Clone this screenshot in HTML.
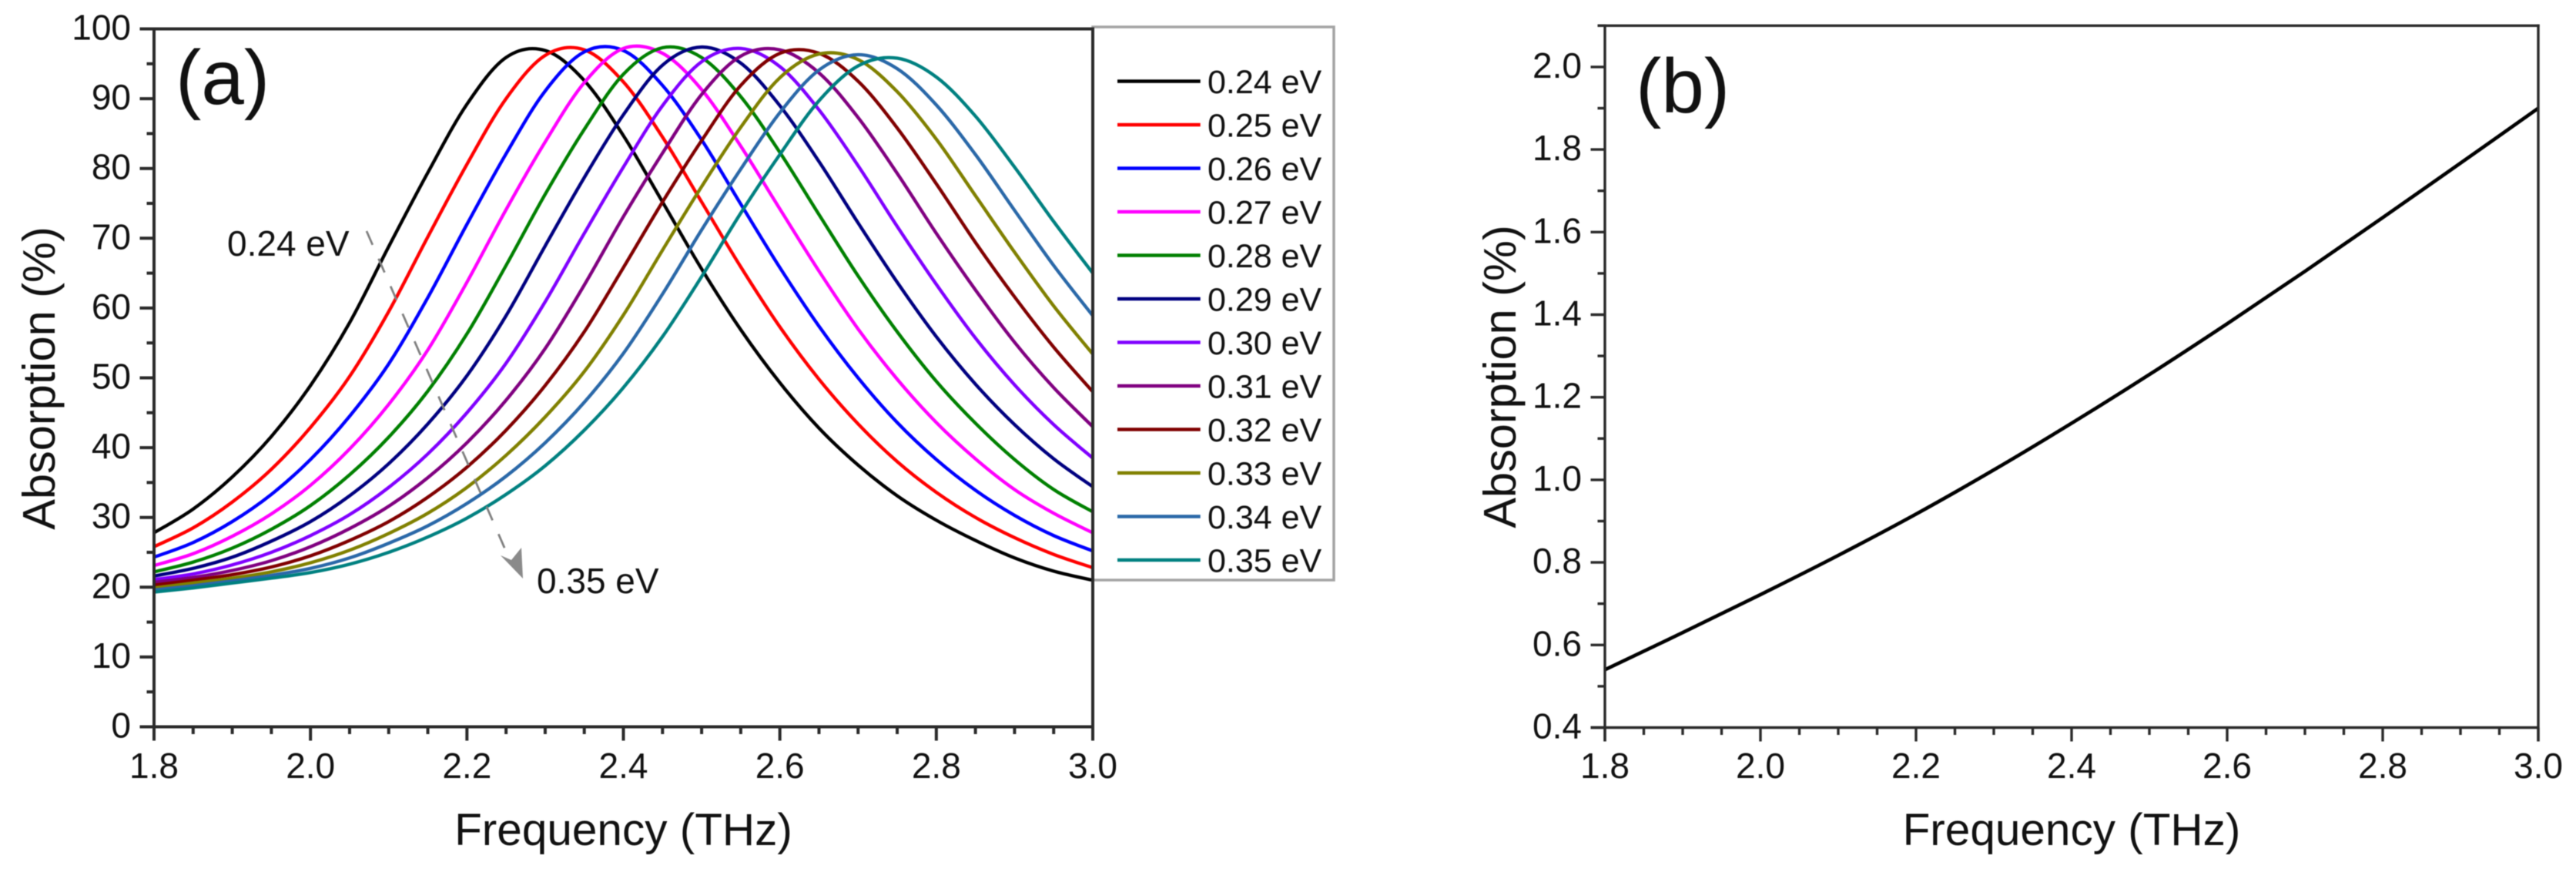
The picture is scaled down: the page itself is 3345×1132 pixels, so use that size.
<!DOCTYPE html>
<html lang="en">
<head>
<meta charset="utf-8">
<title>Absorption spectra</title>
<style>
  html, body { margin: 0; padding: 0; background: #fff; }
  #figure { display: block; width: 3345px; height: 1132px; filter: blur(0.55px); }
  text { font-family: "Liberation Sans", Arial, sans-serif; fill: #111; }
</style>
</head>
<body>
<svg id="figure" xmlns="http://www.w3.org/2000/svg" width="3345" height="1132" viewBox="0 0 3345 1132">
  <rect x="0" y="0" width="3345" height="1132" fill="#fff"/>
  <g id="panelA">
    <g id="curvesA"></g>
    <g>
      <line x1="476" y1="300" x2="662" y2="727" stroke="#808080" stroke-width="2.8" stroke-dasharray="19.5 19.5"/>
      <polygon points="679,751 650,721 664,727 677,711" fill="#8a8a8a"/>
    </g>
    <text x="295" y="332" font-size="46">0.24 eV</text>
    <text x="697" y="770" font-size="46">0.35 eV</text>
    <rect x="1419" y="35" width="313" height="718" fill="#fff" stroke="#a4a4a4" stroke-width="3.5"/>
    <g id="legendA"></g>
    <g id="axesA"></g>
    <text x="228" y="135" font-size="100">(a)</text>
    <text transform="translate(71 491) rotate(-90)" text-anchor="middle" font-size="59.5">Absorption (%)</text>
    <text x="809.5" y="1097" text-anchor="middle" font-size="58.5">Frequency (THz)</text>
  </g>
  <g id="panelB">
    <g id="curvesB"></g>
    <g id="axesB"></g>
    <text x="2124" y="146" font-size="100">(b)</text>
    <text transform="translate(1968 489) rotate(-90)" text-anchor="middle" font-size="59.5">Absorption (%)</text>
    <text x="2690" y="1097" text-anchor="middle" font-size="58.5">Frequency (THz)</text>
  </g>
</svg>
<script>
const frequencyA = [1.80,1.85,1.90,1.95,2.00,2.05,2.10,2.15,2.20,2.25,2.30,2.35,2.40,2.45,2.50,2.55,2.60,2.65,2.70,2.75,2.80,2.85,2.90,2.95,3.00];
const seriesNames = ['0.24 eV','0.25 eV','0.26 eV','0.27 eV','0.28 eV','0.29 eV','0.30 eV','0.31 eV','0.32 eV','0.33 eV','0.34 eV','0.35 eV'];
const seriesColors = ['#000000','#ff0000','#0000ff','#ff00ff','#008000','#000080','#8000ff','#800080','#800000','#808000','#2a68a8','#008080'];
const abs024 = [27.8,31.2,35.8,41.6,48.9,57.9,68.8,79.4,89.2,95.9,96.9,92.6,84.7,75.2,65.6,56.9,49.3,42.8,37.5,33.1,29.6,26.7,24.2,22.3,21.0];
const abs025 = [25.8,28.5,32.2,36.9,42.9,50.2,59.5,70.2,80.6,90.0,96.2,97.0,92.4,84.5,75.2,65.9,57.3,49.8,43.4,38.0,33.6,30.0,27.1,24.7,22.8];
const abs026 = [24.3,26.4,29.4,33.3,38.3,44.5,52.0,61.5,72.0,82.1,91.1,96.7,96.9,91.9,84.1,74.9,65.8,57.4,50.0,43.6,38.3,33.9,30.3,27.4,25.2];
const abs027 = [23.1,24.8,27.3,30.5,34.6,39.8,46.2,54.0,63.7,74.1,83.8,92.3,97.2,96.5,91.3,83.2,74.2,65.3,57.0,49.8,43.6,38.4,34.0,30.6,27.8];
const abs028 = [22.2,23.6,25.6,28.3,31.7,36.1,41.5,48.1,56.3,66.1,76.3,85.6,93.5,97.3,95.9,90.3,82.3,73.4,64.6,56.6,49.5,43.5,38.3,34.0,30.8];
const abs029 = [21.6,22.7,24.3,26.6,29.4,33.1,37.7,43.4,50.3,58.9,68.9,78.7,87.7,94.8,97.4,95.1,89.0,81.0,72.2,63.7,55.9,49.1,43.3,38.4,34.4];
const abs030 = [21.1,21.9,23.2,25.0,27.4,30.4,34.3,39.1,45.0,52.1,60.9,70.7,80.2,89.0,95.3,97.2,94.6,88.4,80.4,71.7,63.4,55.7,49.0,43.3,38.5];
const abs031 = [20.7,21.4,22.4,23.8,25.8,28.4,31.6,35.7,40.7,46.8,54.2,63.3,73.1,82.2,90.6,96.1,97.0,93.7,87.3,79.3,70.7,62.6,55.1,48.6,43.0];
const abs032 = [20.3,21.0,21.8,22.9,24.5,26.7,29.4,32.9,37.2,42.5,48.9,56.6,65.8,75.2,84.0,91.9,96.5,96.5,92.5,85.8,77.8,69.4,61.6,54.4,48.0];
const abs033 = [19.9,20.6,21.3,22.2,23.5,25.3,27.7,30.6,34.3,38.9,44.4,50.9,59.0,68.3,77.4,85.9,93.0,96.4,95.6,91.0,84.2,76.1,68.0,60.3,53.4];
const abs034 = [19.6,20.2,20.9,21.7,22.7,24.2,26.3,28.8,32.0,35.9,40.7,46.5,53.5,62.0,71.2,79.9,88.0,94.1,96.3,94.3,89.1,82.0,74.0,66.1,58.9];
const abs035 = [19.3,19.9,20.6,21.3,22.1,23.3,25.0,27.2,29.9,33.3,37.4,42.5,48.6,55.9,64.5,73.6,82.0,89.7,94.7,95.8,93.1,87.5,80.2,72.4,65.0];
const seriesA = [abs024,abs025,abs026,abs027,abs028,abs029,abs030,abs031,abs032,abs033,abs034,abs035];

const frequencyB = [1.8,1.9,2.0,2.1,2.2,2.3,2.4,2.5,2.6,2.7,2.8,2.9,3.0];
const absorptionB = [0.54,0.63,0.722,0.817,0.917,1.024,1.137,1.255,1.378,1.505,1.635,1.767,1.90];

const xTickLabels = ['1.8','2.0','2.2','2.4','2.6','2.8','3.0'];
const xMinorTicks = [1.85,1.90,1.95,2.05,2.10,2.15,2.25,2.30,2.35,2.45,2.50,2.55,2.65,2.70,2.75,2.85,2.90,2.95];
const yTickLabelsA = ['0','10','20','30','40','50','60','70','80','90','100'];
const yMinorTicksA = [5,15,25,35,45,55,65,75,85,95];
const yTickLabelsB = ['0.4','0.6','0.8','1.0','1.2','1.4','1.6','1.8','2.0'];
const yMinorTicksB = [0.5,0.7,0.9,1.1,1.3,1.5,1.7,1.9,2.1];

const SVG_NS = 'http://www.w3.org/2000/svg';
function make(tag, parent, props) {
  const el = document.createElementNS(SVG_NS, tag);
  Object.keys(props).forEach(function (k) { el.setAttribute(k, props[k]); });
  parent.appendChild(el);
  return el;
}
function xA(f) { return 200 + (f - 1.8) / 1.2 * 1219; }
function yA(v) { return 943.5 - v * 9.06; }
function xB(f) { return 2084 + (f - 1.8) / 1.2 * 1212; }
function yB(v) { return 944.5 - (v - 0.4) * 536; }

function smoothPath(xs, ys, xFn, yFn) {
  const p = xs.map(function (x, i) { return [xFn(x), yFn(ys[i])]; });
  let d = 'M' + p[0][0].toFixed(2) + ' ' + p[0][1].toFixed(2);
  for (let i = 0; i < p.length - 1; i++) {
    const a = p[Math.max(i - 1, 0)], b = p[i], c = p[i + 1], e = p[Math.min(i + 2, p.length - 1)];
    const c1x = b[0] + (c[0] - a[0]) / 6, c1y = b[1] + (c[1] - a[1]) / 6;
    const c2x = c[0] - (e[0] - b[0]) / 6, c2y = c[1] - (e[1] - b[1]) / 6;
    d += 'C' + c1x.toFixed(2) + ' ' + c1y.toFixed(2) + ' ' + c2x.toFixed(2) + ' ' + c2y.toFixed(2) + ' ' + c[0].toFixed(2) + ' ' + c[1].toFixed(2);
  }
  return d;
}

function drawAxes(group, cfg) {
  const stroke = { stroke: '#2a2a2a', 'stroke-width': cfg.width };
  const x0 = cfg.xFn(1.8), x1 = cfg.xFn(3.0), yBottom = cfg.yFn(cfg.yMin), yTop = cfg.yFn(cfg.yMax);
  const left = make('line', group, Object.assign({ x1: x0, y1: yTop - cfg.width / 2, x2: x0, y2: yBottom + 18 }, stroke));
  
  
  const right = make('line', group, Object.assign({ x1: x1, y1: yTop - cfg.width / 2, x2: x1, y2: yBottom + 18 }, stroke));
  
  
  const top = make('line', group, Object.assign({ x1: x0 - cfg.topTick, y1: yTop, x2: x1 + cfg.width / 2, y2: yTop }, stroke));
  
  
  const bottom = make('line', group, Object.assign({ x1: x0 - 18.5, y1: yBottom, x2: x1, y2: yBottom }, stroke));
  
  

  xTickLabels.forEach(function (label) {
    const f = parseFloat(label), x = cfg.xFn(f);
    const t = make('line', group, Object.assign({ x1: x, y1: yBottom, x2: x, y2: yBottom + 18 }, stroke));
    
    
    const tx = make('text', group, { x: x, y: 1010, 'text-anchor': 'middle', 'font-size': 46 });
    
    
    tx.textContent = label;
  });
  xMinorTicks.forEach(function (f) {
    const x = cfg.xFn(f);
    const t = make('line', group, Object.assign({ x1: x, y1: yBottom, x2: x, y2: yBottom + 9.5 }, stroke));
    
    
  });
  cfg.yLabels.forEach(function (label) {
    const v = parseFloat(label), y = cfg.yFn(v);
    const t = make('line', group, Object.assign({ x1: x0 - 18.5, y1: y, x2: x0, y2: y }, stroke));
    
    
    const tx = make('text', group, { x: cfg.labelRight, y: y + 14, 'text-anchor': 'end', 'font-size': 46 });
    
    
    tx.textContent = label;
  });
  cfg.yMinor.forEach(function (v) {
    const y = cfg.yFn(v);
    const t = make('line', group, Object.assign({ x1: x0 - 9.5, y1: y, x2: x0, y2: y }, stroke));
    
    
  });
}

const curvesA = document.getElementById('curvesA');
const legendA = document.getElementById('legendA');
seriesA.forEach(function (values, i) {
  const path = make('path', curvesA, { d: smoothPath(frequencyA, values, xA, yA), fill: 'none', stroke: seriesColors[i], 'stroke-width': 4.3, 'stroke-linejoin': 'round' });
  
  
  const rowY = 105.5 + i * 56.5;
  const swatch = make('line', legendA, { x1: 1451, y1: rowY, x2: 1558.7, y2: rowY, stroke: seriesColors[i], 'stroke-width': 4.5 });
  
  
  const label = make('text', legendA, { x: 1568, y: rowY + 15.5, 'font-size': 43 });
  
  
  label.textContent = seriesNames[i];
});

const curvesB = document.getElementById('curvesB');
const pathB = make('path', curvesB, { d: smoothPath(frequencyB, absorptionB, xB, yB), fill: 'none', stroke: '#000', 'stroke-width': 4.6, 'stroke-linejoin': 'round' });



drawAxes(document.getElementById('axesA'), { prefix: 'panel-a', xFn: xA, yFn: yA, yMin: 0, yMax: 100, width: 4, topTick: 18.5, labelRight: 170, yLabels: yTickLabelsA, yMinor: yMinorTicksA });
drawAxes(document.getElementById('axesB'), { prefix: 'panel-b', xFn: xB, yFn: yB, yMin: 0.4, yMax: 2.1, width: 3.4, topTick: 9.5, labelRight: 2054, yLabels: yTickLabelsB, yMinor: yMinorTicksB });
</script>
</body>
</html>
